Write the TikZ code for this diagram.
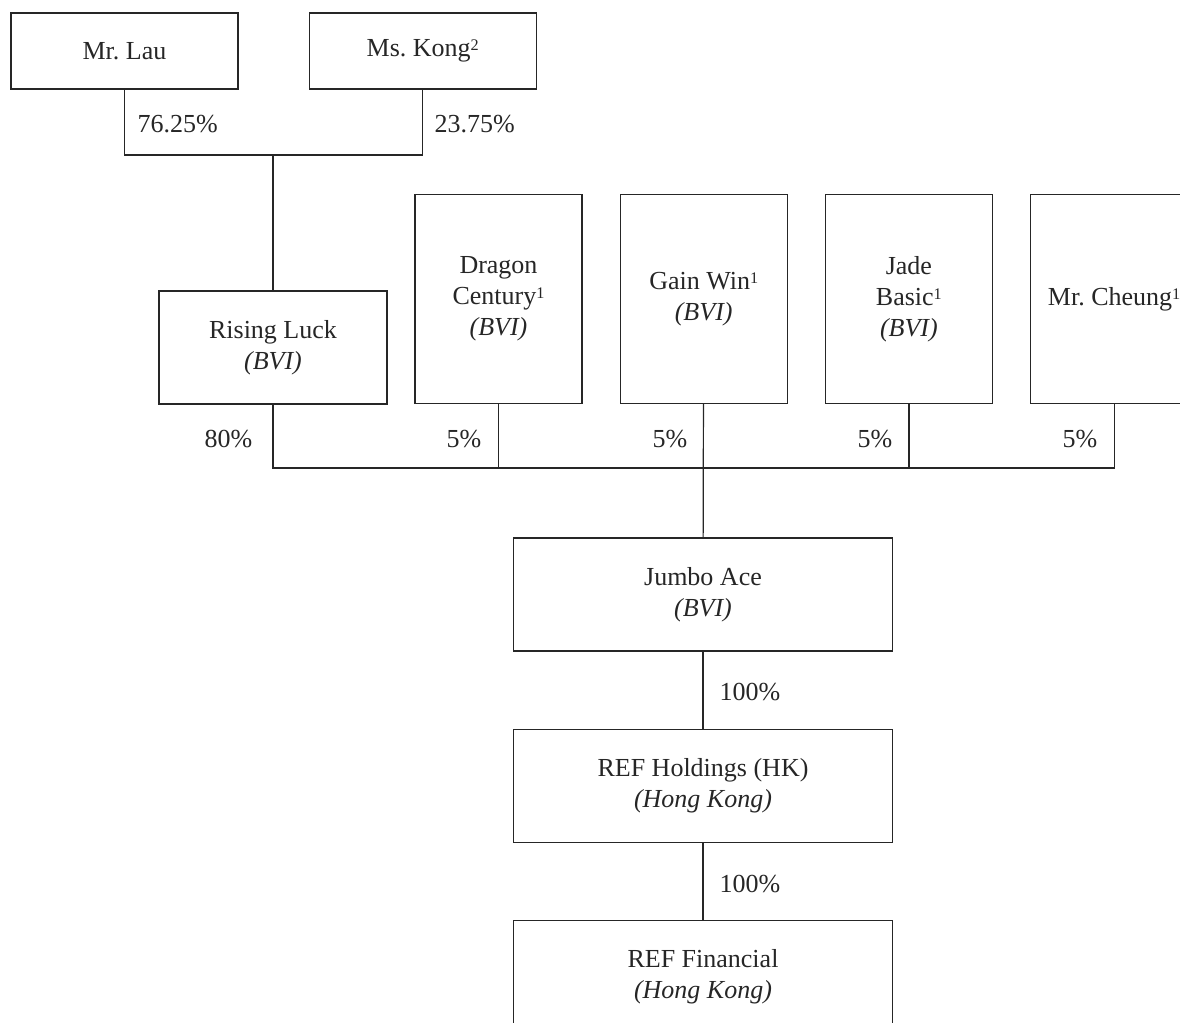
\documentclass[tikz,border=0pt]{standalone}
\usepackage{fontspec}
\setmainfont{Liberation Serif}
\usetikzlibrary{positioning}
\newcommand\fnote[1]{\raisebox{3.1pt}{\fontsize{8.1}{8.1}\selectfont #1}}

\begin{document}
\frenchspacing
\begin{tikzpicture}[x=0.5pt, y=-0.5pt, line width=0.6pt, color=black!85,
    font=\fontsize{13}{15.5}\selectfont,
    entity/.style={draw, align=center, inner sep=0pt},
    person/.style={entity, minimum width=113.5pt, minimum height=38pt},
    vehicle/.style={entity, minimum width=83.5pt, minimum height=104.5pt},
    parent/.style={entity, minimum width=114pt, minimum height=56.5pt},
    subsidiary/.style={entity, minimum width=189.5pt, minimum height=56.5pt},
    share/.style={inner sep=0pt}]
  \clip (0,0) rectangle (1180,1023);

  \node [person] (lau) at (124.5,51) {Mr. Lau};
  \node [person, right=35pt of lau] (kong) {Ms. Kong\fnote{2}};

  \node [parent] (rising) at (273,347.5) {Rising Luck\\\textit{(BVI)}};
  \node [vehicle] (dragon) at (498.5,299) {Dragon\\Century\fnote{1}\\\textit{(BVI)}};
  \node [vehicle, right=18.5pt of dragon] (gain) {Gain Win\fnote{1}\\\textit{(BVI)}};
  \node [vehicle, right=18.5pt of gain] (jade) {Jade\\Basic\fnote{1}\\\textit{(BVI)}};
  \node [vehicle, right=18.5pt of jade] (cheung) {Mr. Cheung\fnote{1}};

  \node [subsidiary] (jumbo) at (703,594.5) {Jumbo Ace\\\textit{(BVI)}};
  \node [subsidiary, below=38.5pt of jumbo] (holdings) {REF Holdings (HK)\\\textit{(Hong Kong)}};
  \node [subsidiary, below=38.5pt of holdings] (financial) {REF Financial\\\textit{(Hong Kong)}};

  \coordinate (ownerjoin) at (273,155);
  \coordinate (sharejoin) at (703,468);

  \draw (lau) |- (ownerjoin) -| (kong);
  \draw (ownerjoin) -- (rising);
  \draw (rising) |- (sharejoin) -| (cheung);
  \draw (dragon) -- (dragon |- sharejoin);
  \draw (jade) -- (jade |- sharejoin);
  \draw (gain) -- (jumbo);
  \draw (jumbo) -- (holdings);
  \draw (holdings) -- (financial);

  \node [share, anchor=base west] (laushare) at (137,132) {76.25\%};
  \node [share, anchor=base west] (kongshare) at (434,132) {23.75\%};
  \node [share, anchor=base east] (risingshare) at (253,447) {80\%};
  \node [share, anchor=base east] (dragonshare) at (482,447) {5\%};
  \node [share, anchor=base east] (gainshare) at (688,447) {5\%};
  \node [share, anchor=base east] (jadeshare) at (893,447) {5\%};
  \node [share, anchor=base east] (cheungshare) at (1098,447) {5\%};
  \node [share, anchor=base west] (jumboshare) at (719,700) {100\%};
  \node [share, anchor=base west] (holdingsshare) at (719,892) {100\%};
\end{tikzpicture}
\end{document}
